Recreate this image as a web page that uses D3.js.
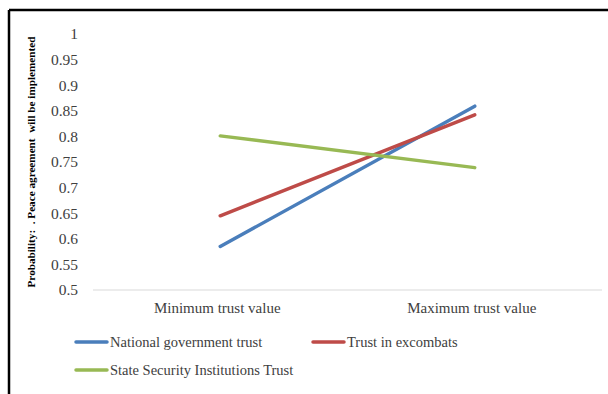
<!DOCTYPE html>
<html><head><meta charset="utf-8">
<script src="https://cdn.jsdelivr.net/npm/d3@7"></script>
<style>body{margin:0;background:#fff}svg{display:block}</style>
</head><body>
<script>
const categories = ["Minimum trust value", "Maximum trust value"];
const seriesNames = ["National government trust", "Trust in excombats", "State Security Institutions Trust"];
const nationalGov = [0.585, 0.859];
const excombats = [0.645, 0.842];
const securityInst = [0.801, 0.739];
const yTicks = [0.5, 0.55, 0.6, 0.65, 0.7, 0.75, 0.8, 0.85, 0.9, 0.95, 1];
const yTitle = "Probability:  . Peace agreement  will be implemented";
const colors = ["#4A7EBB", "#BE4B48", "#98B954"];

const W = 608, H = 394;
const svg = d3.select("body").append("svg").attr("width", W).attr("height", H);
const font = "'Liberation Serif','Times New Roman',serif";

// frame
svg.append("line").attr("x1", 9).attr("x2", W).attr("y1", 10).attr("y2", 10).attr("stroke", "#000").attr("stroke-width", 2.5);
svg.append("line").attr("x1", 9).attr("x2", 9).attr("y1", 10).attr("y2", H).attr("stroke", "#000").attr("stroke-width", 2.5);

const x = d3.scaleBand().domain(categories).range([93, 602]);
const y = d3.scaleLinear().domain([0.5, 1]).range([290, 34]);

// y tick labels
const yAxis = d3.axisLeft(y).tickValues(yTicks).tickSize(0).tickPadding(0).tickFormat(d => d3.format("")(d));
const gy = svg.append("g").attr("transform", "translate(78,0)").call(yAxis);
gy.select(".domain").remove();
gy.selectAll("text").attr("font-family", font).attr("font-size", 15.5).attr("fill", "#404040");

// baseline
svg.append("line").attr("x1", x.range()[0]).attr("x2", x.range()[1]).attr("y1", y(0.5)).attr("y2", y(0.5)).attr("stroke", "#d9d9d9").attr("stroke-width", 1);

// x category labels
const xAxis = d3.axisBottom(x).tickSize(0).tickPadding(0);
const gx = svg.append("g").attr("transform", "translate(-3," + 302 + ")").call(xAxis);
gx.select(".domain").remove();
gx.selectAll("text").attr("font-family", font).attr("font-size", 15).attr("fill", "#404040");

// y title
svg.append("text").attr("transform", "translate(35,162) rotate(-90)").attr("text-anchor", "middle")
  .style("white-space", "pre")
  .attr("font-family", font).attr("font-size", 11.2).attr("font-weight", "bold").attr("fill", "#000").text(yTitle);

// lines
const data = [nationalGov, excombats, securityInst];
const line = d3.line().x((d, i) => x(categories[i]) + x.bandwidth() / 2).y(d => y(d));
data.forEach((s, i) => {
  svg.append("path").datum(s).attr("d", line).attr("fill", "none").attr("stroke", colors[i])
    .attr("stroke-width", 3.5).attr("stroke-linecap", "round");
});

// legend
const legendPos = [[74, 342], [311, 342], [74, 370]];
seriesNames.forEach((n, i) => {
  const [lx, ly] = legendPos[i];
  svg.append("line").attr("x1", lx + 2).attr("x2", lx + 33).attr("y1", ly).attr("y2", ly)
    .attr("stroke", colors[i]).attr("stroke-width", 3.5).attr("stroke-linecap", "round");
  svg.append("text").attr("x", lx + 36).attr("y", ly + 5).attr("font-family", font).attr("font-size", 14.5)
    .attr("fill", "#404040").text(n);
});
</script>
</body></html>
